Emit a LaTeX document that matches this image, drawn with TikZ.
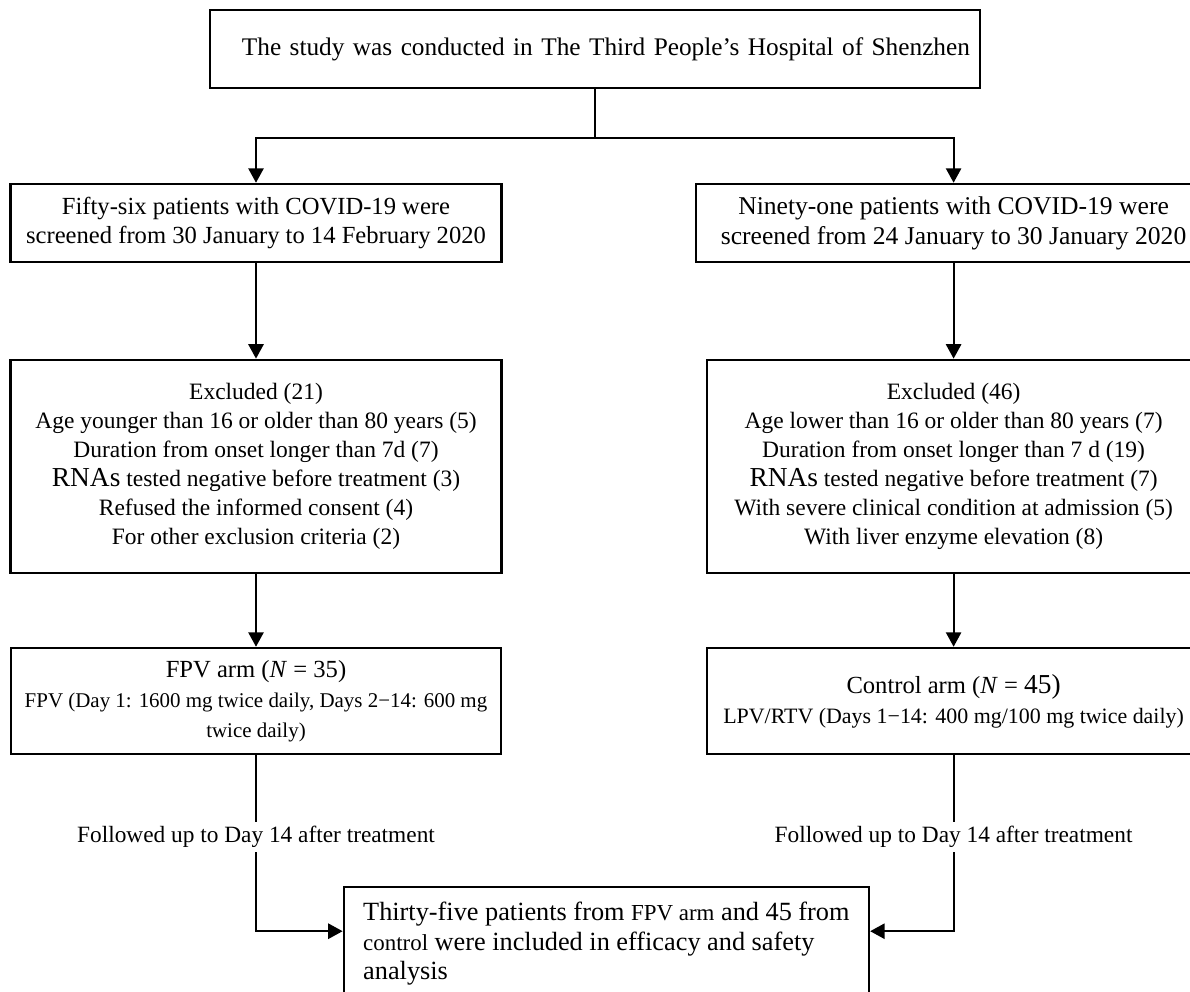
\documentclass[tikz,border=0pt]{standalone}
\usepackage{fontspec}
\setmainfont{Liberation Serif}
\usetikzlibrary{arrows.meta}
\newcommand\dosesz{\fontsize{15.6}{19}\selectfont}
\newcommand\fpvsz{\fontsize{14.9}{19}\selectfont}
\newcommand\bigsz{\fontsize{18.7}{21.3}\selectfont}
\newcommand\smsz{\fontsize{16.3}{21.3}\selectfont}

\begin{document}
\begin{tikzpicture}[>={Triangle[length=0.36cm,width=0.38cm]},
    box/.style={draw, line width=1.8pt, inner sep=0pt, align=center, font=\fontsize{17.5}{21.3}\selectfont},
    excl/.style={box, font=\fontsize{16.7}{20.6}\selectfont, minimum height=5.325cm},
    arm/.style={box, minimum height=2.65cm},
    link/.style={->, line width=1.4pt},
    lbl/.style={fill=white, inner sep=3pt, font=\fontsize{16.6}{20}\selectfont}]
                \clip (0,0) rectangle (29.75,-24.8);
                \node[box, minimum width=19.25cm, minimum height=1.95cm, text width=18.75cm, align=right, font=\fontsize{18}{22}\selectfont](STUDY) at (14.875,-1.225) {The study was conducted in The Third People's Hospital of Shenzhen};
                \node[box, minimum width=12.28cm, minimum height=1.95cm](FIFTY) at (6.4,-5.575) {Fifty-six patients with COVID-19 were\\screened from 30 January to 14 February 2020};
                \node[box, minimum width=12.875cm, minimum height=1.95cm, font=\fontsize{18.2}{21.3}\selectfont](NINETY) at (23.84,-5.575) {Ninety-one patients with COVID-19 were\\screened from 24 January to 30 January 2020};
                \node[excl, minimum width=12.28cm](EXCLF) at (6.4,-11.66) {Excluded (21)\\Age younger than 16 or older than 80 years (5)\\Duration from onset longer than 7d (7)\\{\fontsize{19.5}{20.6}\selectfont RNAs} tested negative before treatment (3)\\Refused the informed consent (4)\\For other exclusion criteria (2)};
                \node[excl, minimum width=12.33cm](EXCLC) at (23.84,-11.66) {Excluded (46)\\Age lower than 16 or older than 80 years (7)\\Duration from onset longer than 7 d (19)\\{\fontsize{19.5}{20.6}\selectfont RNAs} tested negative before treatment (7)\\With severe clinical condition at admission (5)\\With liver enzyme elevation (8)};
                \node[arm, minimum width=12.25cm](FPV) at (6.4,-17.525) {FPV arm (\textit{N} = 35)\\\fpvsz FPV (Day 1: 1600 mg twice daily, Days 2−14: 600 mg\\\fpvsz twice daily)};
                \node[arm, minimum width=12.33cm](CTRL) at (23.84,-17.525) {Control arm (\textit{N} = {\fontsize{19.5}{21.3}\selectfont 45)}\\\dosesz LPV/RTV (Days 1−14: 400 mg/100 mg twice daily)};
                \node[box, minimum width=13.125cm, minimum height=2.825cm, align=left, font=\bigsz](ALL) at (15.16,-23.59) {Thirty-five patients from {\smsz FPV arm} and 45 from\\{\smsz control} were included in efficacy and safety\\analysis};
                \node[lbl](FOLLF) at (FPV.south |- 0,-20.925) {Followed up to Day 14 after treatment};
                \node[lbl](FOLLC) at (CTRL.south |- 0,-20.925) {Followed up to Day 14 after treatment};
                \draw[line width=1.4pt] (STUDY.south) -- ++(0,-1.225) coordinate (SPLIT);
                \draw[link] (SPLIT) -| (FIFTY.north);
                \draw[link] (SPLIT) -| (NINETY.north);
                \draw[link] (FIFTY) -- (EXCLF);
                \draw[link] (NINETY) -- (EXCLC);
                \draw[link] (EXCLF) -- (FPV);
                \draw[link] (EXCLC) -- (CTRL);
                \draw[link] (FPV) -- (FOLLF) |- ([yshift=0.31cm]ALL.west);
                \draw[link] (CTRL) -- (FOLLC) |- ([yshift=0.31cm]ALL.east);
            \end{tikzpicture}
\end{document}
